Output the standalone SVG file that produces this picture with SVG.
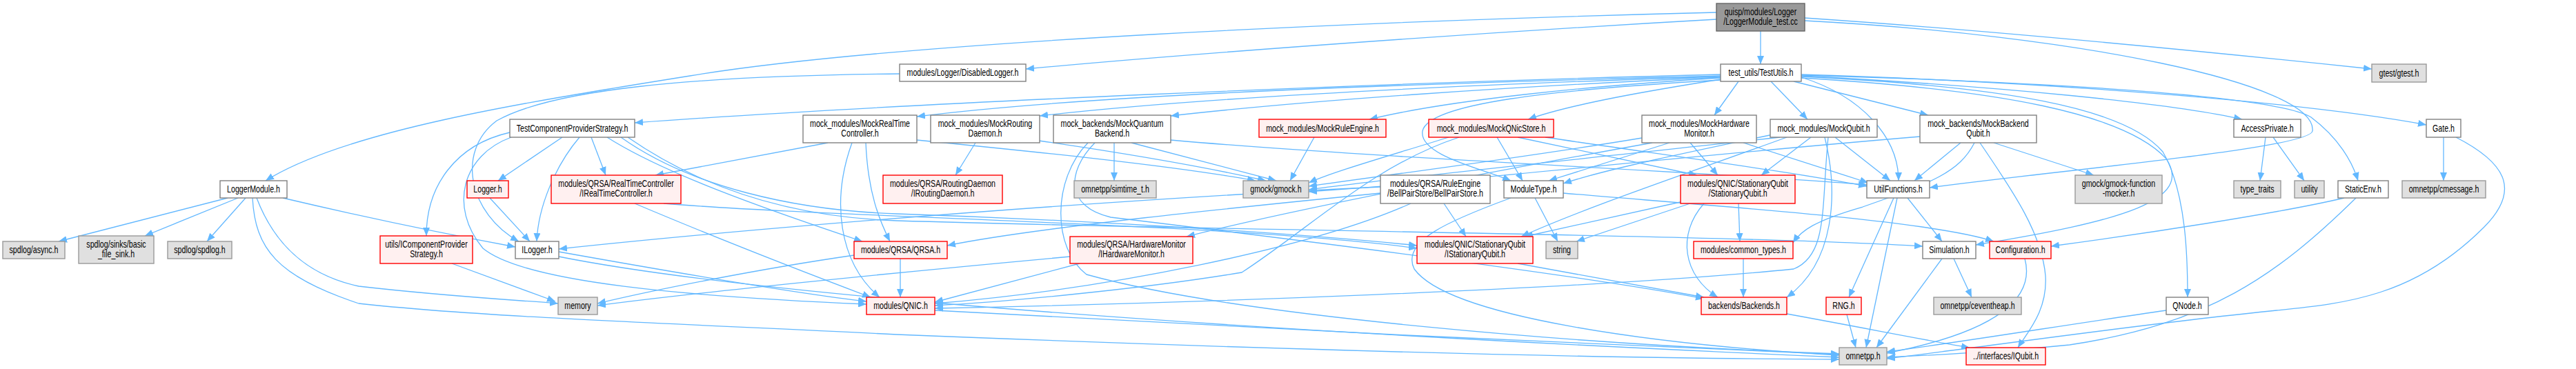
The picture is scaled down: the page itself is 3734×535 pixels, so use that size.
<svg xmlns="http://www.w3.org/2000/svg" width="3734" height="535" viewBox="0 0 3734 535">
<style>
.w{fill:#ffffff;stroke:#808080;stroke-width:1.4}
.g{fill:#e0e0e0;stroke:#999999;stroke-width:1.4}
.r{fill:#fff0f0;stroke:#ff0000;stroke-width:1.4}
.k{fill:#999999;stroke:#666666;stroke-width:1.4}
text{font-family:"Liberation Sans",Arial,sans-serif;font-size:14px;fill:#000000;text-anchor:middle}
#edges path{fill:none;stroke:#63b8ff;stroke-width:1.3;marker-end:url(#ah)}
</style>
<defs>
<marker id="ah" viewBox="0 0 12 10" refX="12" refY="5" markerWidth="12" markerHeight="10" markerUnits="userSpaceOnUse" orient="auto"><path d="M0,0 L12,5 L0,10 z" fill="#63b8ff"/></marker>
</defs>
<rect width="3734" height="535" fill="#ffffff"/>
<g id="edges">
<path d="M2552,45 L2552,93"/>
<path d="M2488,28 C2100,50 1700,80 1487,100"/>
<path d="M2488,18 C2000,30 1300,60 1000,110 C750,150 500,190 385,262"/>
<path d="M2616,26 C2900,45 3200,75 3438,100"/>
<path d="M2616,30 C3000,50 3360,120 3352,190 C3348,215 3000,245 2797,272"/>
<path d="M2494,108 C2000,120 1300,150 920,178"/>
<path d="M2494,110 C2100,120 1600,135 1329,169"/>
<path d="M2494,111 C2150,122 1750,140 1507,168"/>
<path d="M2494,112 C2200,125 1900,145 1697,168"/>
<path d="M2494,113 C2300,125 2100,145 1985,173"/>
<path d="M2494,115 C2400,130 2280,150 2215,173"/>
<path d="M2494,116 C2250,130 2070,150 2062,190 C2056,225 2150,245 2190,262"/>
<path d="M2520,118 L2485,167"/>
<path d="M2567,118 L2620,173"/>
<path d="M2600,118 L2795,167"/>
<path d="M2611,112 C2700,140 2752,200 2752,262"/>
<path d="M2611,110 C2900,125 3150,150 3250,173"/>
<path d="M2611,108 C3000,120 3350,150 3517,181"/>
<path d="M2611,109 C3000,120 3300,140 3350,170 C3390,200 3410,235 3418,262"/>
<path d="M2611,111 C2900,125 3080,155 3135,220 C3170,280 3171,380 3171,431"/>
<path d="M2611,113 C2900,130 3080,165 3140,230 C3180,290 3080,320 2864,355"/>
<path d="M815,199 L722,262"/>
<path d="M857,199 L878,254"/>
<path d="M840,199 C805,240 780,300 778,350"/>
<path d="M739,192 C660,210 618,270 618,342"/>
<path d="M741,199 C670,225 650,300 700,360 C760,410 1000,430 1256,441"/>
<path d="M880,199 C960,250 1100,300 1250,350"/>
<path d="M900,199 C1000,270 1150,305 1300,310 C1600,320 1900,340 2054,356"/>
<path d="M910,199 C1020,275 1150,315 1300,320 C1800,335 2500,340 2787,357"/>
<path d="M1200,207 L950,254"/>
<path d="M1329,203 C1500,220 1700,240 1820,262"/>
<path d="M1255,207 C1258,280 1275,320 1290,350"/>
<path d="M1235,207 C1205,290 1215,380 1275,431"/>
<path d="M1414,207 L1385,254"/>
<path d="M1506,204 C1650,225 1760,245 1835,262"/>
<path d="M1615,207 L1615,262"/>
<path d="M1640,207 L1850,262"/>
<path d="M1587,207 C1545,250 1545,300 1610,315 C1900,350 2300,400 2470,433"/>
<path d="M1577,207 C1525,260 1525,360 1575,398 C1800,460 2300,500 2666,513"/>
<path d="M1697,203 C2000,230 2500,250 2706,268"/>
<path d="M1905,199 L1870,262"/>
<path d="M2100,199 C2000,230 1930,250 1897,265"/>
<path d="M2170,199 L2207,262"/>
<path d="M2200,199 L2460,254"/>
<path d="M2240,199 C2450,230 2600,250 2706,270"/>
<path d="M2115,199 C1990,240 1900,330 1800,395 C1650,420 1450,438 1355,443"/>
<path d="M2380,200 C2200,230 2000,255 1897,270"/>
<path d="M2395,207 C2100,260 1850,310 1720,343"/>
<path d="M2420,207 L2245,262"/>
<path d="M2450,207 L2490,254"/>
<path d="M2527,207 L2708,265"/>
<path d="M2580,199 C2300,230 2000,260 1897,275"/>
<path d="M2625,199 L2553,254"/>
<path d="M2590,199 C2450,250 2300,300 2205,343"/>
<path d="M2660,199 L2740,262"/>
<path d="M2645,199 C2665,280 2660,380 2590,431"/>
<path d="M2650,199 C2640,300 2650,370 2600,390 C2300,420 1700,440 1355,447"/>
<path d="M2570,195 C2450,220 2330,245 2266,266"/>
<path d="M2842,207 L2775,262"/>
<path d="M2862,207 C2840,250 2800,265 2700,300 C2630,320 2610,335 2599,352"/>
<path d="M2870,207 C2920,280 2960,340 2965,400 C2968,450 2940,480 2925,504"/>
<path d="M2890,207 L3035,254"/>
<path d="M2783,198 C2400,230 2100,265 1897,278"/>
<path d="M2745,287 L2680,431"/>
<path d="M2750,287 L2705,504"/>
<path d="M2765,287 L2815,350"/>
<path d="M2815,375 L2720,504"/>
<path d="M2832,375 L2858,431"/>
<path d="M2935,375 C2950,430 2900,480 2735,512"/>
<path d="M3398,287 C3300,310 3100,340 2973,357"/>
<path d="M3415,287 C3300,400 3200,470 3000,500 C2900,510 2800,515 2735,518"/>
<path d="M3542,199 L3542,262"/>
<path d="M3560,199 C3640,240 3650,280 3600,330 C3500,430 3400,440 3300,450 C3100,470 2900,500 2735,520"/>
<path d="M3284,199 L3276,262"/>
<path d="M3295,199 L3340,262"/>
<path d="M3140,450 C3000,470 2850,495 2735,510"/>
<path d="M2677,456 L2690,504"/>
<path d="M2590,455 C2700,475 2800,495 2855,504"/>
<path d="M2520,295 L2522,350"/>
<path d="M2440,292 L2210,343"/>
<path d="M2450,295 L2285,350"/>
<path d="M2470,295 C2430,340 2440,400 2490,431"/>
<path d="M2200,382 L2470,431"/>
<path d="M2527,375 L2527,431"/>
<path d="M2225,287 L2258,350"/>
<path d="M2190,287 C2100,320 2030,350 2050,390 C2100,460 2400,500 2666,515"/>
<path d="M2266,280 C2500,300 2800,320 2890,350"/>
<path d="M2093,295 L2125,343"/>
<path d="M2001,271 C1600,290 1100,330 810,361"/>
<path d="M2001,280 C1800,300 1500,330 1373,356"/>
<path d="M2045,295 C1900,360 1600,420 1355,440"/>
<path d="M810,365 C950,390 1150,425 1256,437"/>
<path d="M810,372 C1100,430 1800,480 2666,518"/>
<path d="M655,382 L805,437"/>
<path d="M920,295 C1050,350 1180,400 1262,431"/>
<path d="M962,295 C1200,315 1800,325 2054,360"/>
<path d="M1305,375 L1305,431"/>
<path d="M1238,370 C1100,390 950,420 866,440"/>
<path d="M1551,372 C1300,395 1000,425 866,443"/>
<path d="M1565,382 L1355,438"/>
<path d="M1355,450 C1700,470 2300,500 2666,514"/>
<path d="M330,287 L85,350"/>
<path d="M345,287 L210,342"/>
<path d="M356,287 L300,350"/>
<path d="M410,287 C550,320 650,340 747,358"/>
<path d="M372,287 C400,360 450,400 520,415 C650,430 750,435 809,440"/>
<path d="M366,287 C370,360 400,400 520,440 C700,460 1000,470 1300,485 C1800,505 2300,520 2666,521"/>
<path d="M1304,107 C1000,110 800,130 720,175 C660,220 680,310 752,350"/>
<path d="M710,287 L768,350"/>
</g>
<g id="n0"><rect class="k" x="2488" y="5" width="128" height="40"/><text transform="translate(2552,21.5) scale(0.76,1)">quisp/modules/Logger</text><text transform="translate(2552,35.5) scale(0.76,1)">/LoggerModule_test.cc</text></g>
<g id="n1"><rect class="w" x="1304" y="93" width="183" height="25"/><text transform="translate(1395.5,110) scale(0.76,1)">modules/Logger/DisabledLogger.h</text></g>
<g id="n2"><rect class="w" x="2494" y="93" width="117" height="25"/><text transform="translate(2552.5,110) scale(0.76,1)">test_utils/TestUtils.h</text></g>
<g id="n3"><rect class="g" x="3438" y="93" width="79" height="26"/><text transform="translate(3477.5,110.5) scale(0.76,1)">gtest/gtest.h</text></g>
<g id="n4"><rect class="w" x="319" y="262" width="97" height="25"/><text transform="translate(367.5,279) scale(0.76,1)">LoggerModule.h</text></g>
<g id="n5"><rect class="w" x="739" y="173" width="181" height="26"/><text transform="translate(829.5,190.5) scale(0.76,1)">TestComponentProviderStrategy.h</text></g>
<g id="n6"><rect class="w" x="1164" y="167" width="165" height="40"/><text transform="translate(1246.5,183.5) scale(0.76,1)">mock_modules/MockRealTime</text><text transform="translate(1246.5,197.5) scale(0.76,1)">Controller.h</text></g>
<g id="n7"><rect class="w" x="1349" y="167" width="158" height="40"/><text transform="translate(1428,183.5) scale(0.76,1)">mock_modules/MockRouting</text><text transform="translate(1428,197.5) scale(0.76,1)">Daemon.h</text></g>
<g id="n8"><rect class="w" x="1527" y="167" width="170" height="40"/><text transform="translate(1612,183.5) scale(0.76,1)">mock_backends/MockQuantum</text><text transform="translate(1612,197.5) scale(0.76,1)">Backend.h</text></g>
<g id="n9"><rect class="r" x="1825" y="173" width="184" height="26"/><text transform="translate(1917,190.5) scale(0.76,1)">mock_modules/MockRuleEngine.h</text></g>
<g id="n10"><rect class="r" x="2071" y="173" width="181" height="26"/><text transform="translate(2161.5,190.5) scale(0.76,1)">mock_modules/MockQNicStore.h</text></g>
<g id="n11"><rect class="w" x="2380" y="167" width="166" height="40"/><text transform="translate(2463,183.5) scale(0.76,1)">mock_modules/MockHardware</text><text transform="translate(2463,197.5) scale(0.76,1)">Monitor.h</text></g>
<g id="n12"><rect class="w" x="2566" y="173" width="155" height="26"/><text transform="translate(2643.5,190.5) scale(0.76,1)">mock_modules/MockQubit.h</text></g>
<g id="n13"><rect class="w" x="2783" y="167" width="169" height="40"/><text transform="translate(2867.5,183.5) scale(0.76,1)">mock_backends/MockBackend</text><text transform="translate(2867.5,197.5) scale(0.76,1)">Qubit.h</text></g>
<g id="n14"><rect class="w" x="3238" y="173" width="97" height="26"/><text transform="translate(3286.5,190.5) scale(0.76,1)">AccessPrivate.h</text></g>
<g id="n15"><rect class="w" x="3517" y="173" width="50" height="26"/><text transform="translate(3542,190.5) scale(0.76,1)">Gate.h</text></g>
<g id="n16"><rect class="r" x="677" y="262" width="60" height="25"/><text transform="translate(707,279) scale(0.76,1)">Logger.h</text></g>
<g id="n17"><rect class="r" x="799" y="254" width="188" height="41"/><text transform="translate(893,270.5) scale(0.76,1)">modules/QRSA/RealTimeController</text><text transform="translate(893,284.5) scale(0.76,1)">/IRealTimeController.h</text></g>
<g id="n18"><rect class="r" x="1280" y="254" width="173" height="41"/><text transform="translate(1366.5,270.5) scale(0.76,1)">modules/QRSA/RoutingDaemon</text><text transform="translate(1366.5,284.5) scale(0.76,1)">/IRoutingDaemon.h</text></g>
<g id="n19"><rect class="g" x="1557" y="262" width="119" height="25"/><text transform="translate(1616.5,279) scale(0.76,1)">omnetpp/simtime_t.h</text></g>
<g id="n20"><rect class="g" x="1802" y="262" width="95" height="25"/><text transform="translate(1849.5,279) scale(0.76,1)">gmock/gmock.h</text></g>
<g id="n21"><rect class="w" x="2001" y="254" width="159" height="41"/><text transform="translate(2080.5,270.5) scale(0.76,1)">modules/QRSA/RuleEngine</text><text transform="translate(2080.5,284.5) scale(0.76,1)">/BellPairStore/BellPairStore.h</text></g>
<g id="n22"><rect class="w" x="2180" y="262" width="86" height="25"/><text transform="translate(2223,279) scale(0.76,1)">ModuleType.h</text></g>
<g id="n23"><rect class="r" x="2436" y="254" width="166" height="41"/><text transform="translate(2519,270.5) scale(0.76,1)">modules/QNIC/StationaryQubit</text><text transform="translate(2519,284.5) scale(0.76,1)">/StationaryQubit.h</text></g>
<g id="n24"><rect class="w" x="2706" y="262" width="91" height="25"/><text transform="translate(2751.5,279) scale(0.76,1)">UtilFunctions.h</text></g>
<g id="n25"><rect class="g" x="3008" y="254" width="126" height="41"/><text transform="translate(3071,270.5) scale(0.76,1)">gmock/gmock-function</text><text transform="translate(3071,284.5) scale(0.76,1)">-mocker.h</text></g>
<g id="n26"><rect class="g" x="3238" y="262" width="68" height="25"/><text transform="translate(3272,279) scale(0.76,1)">type_traits</text></g>
<g id="n27"><rect class="g" x="3326" y="262" width="43" height="25"/><text transform="translate(3347.5,279) scale(0.76,1)">utility</text></g>
<g id="n28"><rect class="w" x="3389" y="262" width="73" height="25"/><text transform="translate(3425.5,279) scale(0.76,1)">StaticEnv.h</text></g>
<g id="n29"><rect class="g" x="3482" y="262" width="121" height="25"/><text transform="translate(3542.5,279) scale(0.76,1)">omnetpp/cmessage.h</text></g>
<g id="n30"><rect class="g" x="4" y="350" width="90" height="25"/><text transform="translate(49,367) scale(0.76,1)">spdlog/async.h</text></g>
<g id="n31"><rect class="g" x="114" y="342" width="109" height="40"/><text transform="translate(168.5,358.5) scale(0.76,1)">spdlog/sinks/basic</text><text transform="translate(168.5,372.5) scale(0.76,1)">_file_sink.h</text></g>
<g id="n32"><rect class="g" x="243" y="350" width="93" height="25"/><text transform="translate(289.5,367) scale(0.76,1)">spdlog/spdlog.h</text></g>
<g id="n33"><rect class="r" x="551" y="342" width="134" height="40"/><text transform="translate(618,358.5) scale(0.76,1)">utils/IComponentProvider</text><text transform="translate(618,372.5) scale(0.76,1)">Strategy.h</text></g>
<g id="n34"><rect class="w" x="747" y="350" width="63" height="25"/><text transform="translate(778.5,367) scale(0.76,1)">ILogger.h</text></g>
<g id="n35"><rect class="r" x="1238" y="350" width="135" height="25"/><text transform="translate(1305.5,367) scale(0.76,1)">modules/QRSA/QRSA.h</text></g>
<g id="n36"><rect class="r" x="1551" y="343" width="178" height="39"/><text transform="translate(1640,359) scale(0.76,1)">modules/QRSA/HardwareMonitor</text><text transform="translate(1640,373) scale(0.76,1)">/IHardwareMonitor.h</text></g>
<g id="n37"><rect class="r" x="2054" y="343" width="168" height="39"/><text transform="translate(2138,359) scale(0.76,1)">modules/QNIC/StationaryQubit</text><text transform="translate(2138,373) scale(0.76,1)">/IStationaryQubit.h</text></g>
<g id="n38"><rect class="g" x="2241" y="350" width="46" height="25"/><text transform="translate(2264,367) scale(0.76,1)">string</text></g>
<g id="n39"><rect class="r" x="2455" y="350" width="144" height="25"/><text transform="translate(2527,367) scale(0.76,1)">modules/common_types.h</text></g>
<g id="n40"><rect class="w" x="2787" y="350" width="77" height="25"/><text transform="translate(2825.5,367) scale(0.76,1)">Simulation.h</text></g>
<g id="n41"><rect class="r" x="2884" y="350" width="89" height="25"/><text transform="translate(2928.5,367) scale(0.76,1)">Configuration.h</text></g>
<g id="n42"><rect class="g" x="809" y="431" width="57" height="25"/><text transform="translate(837.5,448) scale(0.76,1)">memory</text></g>
<g id="n43"><rect class="r" x="1256" y="431" width="99" height="25"/><text transform="translate(1305.5,448) scale(0.76,1)">modules/QNIC.h</text></g>
<g id="n44"><rect class="r" x="2466" y="431" width="124" height="25"/><text transform="translate(2528,448) scale(0.76,1)">backends/Backends.h</text></g>
<g id="n45"><rect class="r" x="2647" y="431" width="51" height="25"/><text transform="translate(2672.5,448) scale(0.76,1)">RNG.h</text></g>
<g id="n46"><rect class="g" x="2803" y="431" width="127" height="25"/><text transform="translate(2866.5,448) scale(0.76,1)">omnetpp/ceventheap.h</text></g>
<g id="n47"><rect class="w" x="3140" y="431" width="61" height="25"/><text transform="translate(3170.5,448) scale(0.76,1)">QNode.h</text></g>
<g id="n48"><rect class="g" x="2666" y="504" width="69" height="25"/><text transform="translate(2700.5,521) scale(0.76,1)">omnetpp.h</text></g>
<g id="n49"><rect class="r" x="2850" y="504" width="115" height="25"/><text transform="translate(2907.5,521) scale(0.76,1)">../interfaces/IQubit.h</text></g>
</svg>
